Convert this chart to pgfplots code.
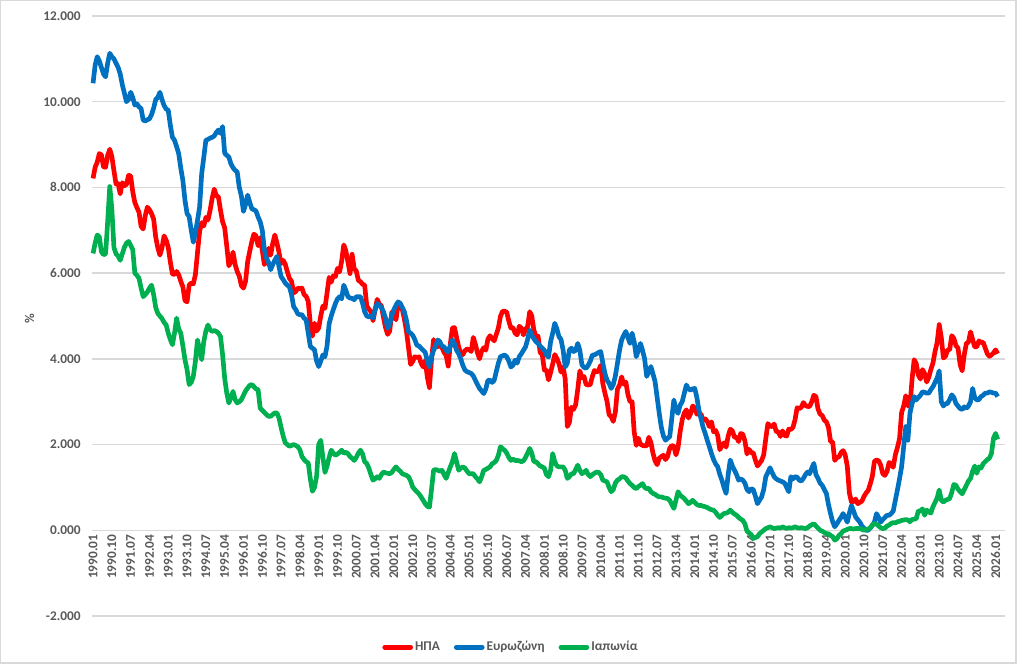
\documentclass[border=0pt]{standalone}
\usepackage{fontspec}
\setmainfont{Carlito}
\usepackage{pgfplots}
\pgfplotsset{compat=1.18}
\usepackage{pgfplotstable}

\definecolor{usred}{HTML}{FF0000}
\definecolor{ezblue}{HTML}{0070C0}
\definecolor{jpgreen}{HTML}{00B050}
\definecolor{txtgray}{HTML}{595959}
\definecolor{gridgray}{HTML}{D9D9D9}
\newcommand{\tickfont}{\fontsize{10}{12}\selectfont\bfseries}

% monthly 10y yields, 1990.01 - 2026.02
\pgfplotstableread{
us ez jp
8.21 10.43 6.46
8.47 10.85 6.70
8.59 11.05 6.89
8.79 10.95 6.85
8.76 10.80 6.50
8.48 10.65 6.43
8.47 10.58 6.45
8.75 10.90 7.20
8.89 11.13 8.02
8.72 11.05 7.50
8.39 11.00 6.60
8.08 10.90 6.45
8.09 10.80 6.40
7.85 10.65 6.30
8.11 10.40 6.45
8.04 10.20 6.60
8.07 10.00 6.70
8.28 10.05 6.74
8.27 10.22 6.65
7.90 10.10 6.55
7.65 9.92 6.00
7.53 9.95 5.95
7.42 9.88 5.88
7.09 9.84 5.65
7.03 9.57 5.45
7.34 9.55 5.50
7.54 9.58 5.56
7.48 9.60 5.65
7.39 9.70 5.72
7.26 9.85 5.50
6.84 10.05 5.20
6.59 10.10 5.06
6.42 10.22 5.00
6.59 10.05 4.94
6.87 9.91 4.85
6.77 9.83 4.79
6.60 9.80 4.60
6.26 9.45 4.45
5.98 9.17 4.33
5.97 9.10 4.60
6.04 8.95 4.95
5.96 8.79 4.70
5.81 8.45 4.60
5.68 8.16 4.30
5.36 7.70 3.98
5.33 7.39 3.75
5.72 7.32 3.40
5.77 7.00 3.45
5.75 6.72 3.59
5.97 6.95 3.95
6.48 7.23 4.44
6.97 7.54 4.20
7.18 8.32 3.98
7.10 8.70 4.40
7.30 9.10 4.65
7.24 9.12 4.79
7.46 9.15 4.68
7.74 9.17 4.64
7.96 9.20 4.66
7.81 9.28 4.64
7.78 9.34 4.60
7.47 9.26 4.52
7.20 9.42 4.10
7.06 8.80 3.55
6.63 8.75 3.20
6.17 8.71 2.97
6.28 8.55 3.10
6.49 8.46 3.24
6.20 8.40 3.05
6.04 8.36 2.97
5.93 8.00 3.00
5.71 7.80 3.05
5.65 7.44 3.15
5.81 7.60 3.25
6.27 7.82 3.32
6.51 7.65 3.38
6.74 7.50 3.40
6.91 7.48 3.35
6.87 7.45 3.30
6.64 7.31 3.28
6.83 7.20 2.85
6.53 7.00 2.80
6.20 6.55 2.75
6.30 6.35 2.70
6.58 6.25 2.66
6.42 6.08 2.66
6.69 6.20 2.70
6.89 6.30 2.74
6.71 6.39 2.74
6.49 6.15 2.62
6.22 5.92 2.40
6.30 5.85 2.20
6.21 5.77 2.04
6.03 5.72 2.00
5.88 5.68 1.96
5.81 5.50 1.98
5.54 5.22 2.00
5.57 5.15 1.98
5.65 5.05 1.95
5.64 5.03 1.88
5.65 5.03 1.72
5.50 4.95 1.65
5.46 4.91 1.60
5.34 4.60 1.57
4.81 4.29 1.20
4.53 4.25 0.91
4.83 4.21 1.00
4.65 3.95 1.26
4.72 3.82 2.00
5.00 3.95 2.10
5.23 4.09 1.70
5.18 4.05 1.35
5.54 4.30 1.50
5.90 4.82 1.70
5.79 5.00 1.87
5.94 5.15 1.80
5.92 5.29 1.75
6.11 5.40 1.78
6.03 5.45 1.82
6.28 5.40 1.87
6.66 5.72 1.80
6.52 5.60 1.82
6.26 5.45 1.79
5.99 5.42 1.72
6.44 5.41 1.68
6.10 5.38 1.63
6.05 5.45 1.70
5.83 5.45 1.80
5.80 5.45 1.87
5.74 5.30 1.78
5.72 5.10 1.60
5.24 5.00 1.56
5.16 4.98 1.45
5.10 5.00 1.30
4.89 4.95 1.17
5.14 5.15 1.20
5.39 5.29 1.25
5.28 5.25 1.21
5.24 5.20 1.30
4.97 5.10 1.36
4.73 4.95 1.34
4.57 4.71 1.33
4.65 4.80 1.32
5.09 5.02 1.35
5.04 5.15 1.42
4.91 5.25 1.48
5.28 5.33 1.42
5.21 5.30 1.38
5.16 5.20 1.32
4.93 5.10 1.30
4.65 4.90 1.28
4.26 4.63 1.25
3.87 4.60 1.15
3.94 4.55 1.01
4.05 4.45 0.95
4.03 4.32 0.90
4.05 4.30 0.85
3.90 4.25 0.78
3.81 4.20 0.70
3.96 4.15 0.62
3.57 3.95 0.56
3.33 3.81 0.54
3.98 4.05 0.95
4.45 4.20 1.40
4.27 4.30 1.42
4.29 4.44 1.40
4.30 4.40 1.38
4.27 4.30 1.40
4.15 4.28 1.30
4.08 4.20 1.21
3.83 4.16 1.35
4.35 4.30 1.48
4.72 4.44 1.60
4.73 4.35 1.79
4.50 4.20 1.60
4.28 4.12 1.40
4.13 4.00 1.45
4.10 3.85 1.48
4.19 3.74 1.45
4.23 3.70 1.38
4.22 3.68 1.32
4.17 3.66 1.32
4.50 3.60 1.32
4.34 3.50 1.25
4.14 3.40 1.20
4.00 3.31 1.13
4.18 3.25 1.25
4.26 3.19 1.40
4.20 3.30 1.42
4.46 3.50 1.45
4.54 3.50 1.48
4.47 3.45 1.55
4.42 3.50 1.58
4.57 3.70 1.63
4.72 3.90 1.75
4.99 4.05 1.95
5.11 4.07 1.90
5.11 4.09 1.87
5.09 4.05 1.80
4.88 3.95 1.70
4.72 3.81 1.63
4.73 3.85 1.66
4.60 3.97 1.63
4.56 3.90 1.63
4.76 4.05 1.62
4.72 4.12 1.60
4.56 4.20 1.62
4.69 4.28 1.70
4.75 4.45 1.80
5.10 4.67 1.91
5.00 4.55 1.80
4.67 4.47 1.60
4.52 4.40 1.60
4.53 4.36 1.55
4.15 4.30 1.50
4.10 4.25 1.48
3.74 4.20 1.45
3.74 4.09 1.30
3.51 4.04 1.25
3.68 4.40 1.40
3.88 4.60 1.79
4.10 4.83 1.60
4.01 4.70 1.50
3.89 4.52 1.48
3.69 4.45 1.48
3.81 4.20 1.48
3.53 3.81 1.40
2.42 3.90 1.21
2.52 4.21 1.25
2.87 4.25 1.32
2.82 4.17 1.32
2.93 4.20 1.42
3.29 4.36 1.52
3.72 4.20 1.40
3.56 3.86 1.32
3.59 3.80 1.35
3.40 3.78 1.40
3.39 3.85 1.30
3.40 3.95 1.25
3.59 4.09 1.30
3.73 4.09 1.33
3.69 4.12 1.36
3.73 4.15 1.35
3.85 4.17 1.30
3.42 3.90 1.17
3.20 3.66 1.15
3.01 3.50 1.13
2.70 3.43 1.00
2.65 3.31 0.90
2.54 3.40 0.95
2.76 3.60 1.10
3.29 3.90 1.17
3.39 4.20 1.20
3.58 4.44 1.25
3.41 4.55 1.25
3.46 4.64 1.22
3.17 4.50 1.15
3.00 4.36 1.09
3.00 4.60 1.05
2.30 4.40 1.00
1.98 4.05 0.97
2.15 4.20 1.02
2.01 4.36 1.05
1.98 4.20 1.09
1.97 4.00 1.00
1.97 3.59 0.97
2.17 3.70 0.98
2.05 3.82 0.90
1.80 3.65 0.86
1.62 3.47 0.84
1.53 3.10 0.80
1.68 2.73 0.78
1.72 2.40 0.78
1.75 2.20 0.76
1.65 2.10 0.75
1.72 2.15 0.74
1.91 2.18 0.70
1.98 2.60 0.60
1.96 3.04 0.51
1.76 2.80 0.70
1.93 2.73 0.90
2.30 2.92 0.82
2.58 3.00 0.78
2.74 3.20 0.74
2.81 3.39 0.68
2.62 3.30 0.62
2.72 3.27 0.65
2.90 3.30 0.70
2.86 3.31 0.65
2.71 3.10 0.60
2.72 2.80 0.58
2.71 2.60 0.58
2.56 2.40 0.56
2.60 2.26 0.55
2.54 2.10 0.53
2.42 1.95 0.50
2.53 1.79 0.48
2.30 1.65 0.47
2.33 1.55 0.42
2.21 1.48 0.35
1.88 1.30 0.30
1.98 1.17 0.35
2.04 1.00 0.39
1.94 0.86 0.40
2.20 1.30 0.42
2.36 1.64 0.47
2.32 1.50 0.42
2.17 1.40 0.38
2.17 1.30 0.35
2.07 1.17 0.30
2.26 1.20 0.26
2.24 1.17 0.23
2.09 1.10 0.15
1.78 0.95 -0.02
1.89 0.90 -0.06
1.81 0.97 -0.10
1.81 0.95 -0.19
1.64 0.80 -0.17
1.50 0.62 -0.15
1.56 0.70 -0.08
1.63 0.78 -0.04
1.76 0.95 0.00
2.14 1.25 0.04
2.49 1.35 0.06
2.43 1.46 0.08
2.42 1.35 0.06
2.48 1.25 0.04
2.30 1.20 0.05
2.30 1.17 0.06
2.19 1.15 0.05
2.32 1.13 0.08
2.21 1.10 0.06
2.20 1.00 0.04
2.36 0.90 0.06
2.35 1.25 0.05
2.40 1.20 0.06
2.58 1.25 0.08
2.86 1.24 0.06
2.84 1.17 0.05
2.87 1.15 0.06
2.98 1.21 0.05
2.91 1.30 0.04
2.89 1.36 0.06
2.89 1.32 0.10
3.00 1.45 0.13
3.15 1.56 0.15
3.12 1.30 0.10
2.83 1.21 0.05
2.71 1.10 0.00
2.68 1.05 -0.02
2.57 0.95 -0.05
2.53 0.86 -0.08
2.40 0.60 -0.08
2.07 0.39 -0.12
2.06 0.20 -0.15
1.63 0.08 -0.23
1.70 0.15 -0.20
1.71 0.23 -0.12
1.81 0.30 -0.08
1.86 0.39 -0.02
1.76 0.30 0.00
1.50 0.19 0.02
0.87 0.40 0.04
0.66 0.58 0.04
0.67 0.45 0.03
0.73 0.31 0.04
0.62 0.25 0.04
0.65 0.19 0.04
0.68 0.10 0.02
0.79 0.05 0.00
0.87 0.00 0.02
0.93 0.00 0.03
1.08 0.05 0.06
1.26 0.12 0.12
1.61 0.19 0.16
1.64 0.39 0.14
1.62 0.30 0.10
1.52 0.19 0.06
1.32 0.25 0.04
1.28 0.30 0.05
1.37 0.35 0.10
1.58 0.35 0.12
1.56 0.39 0.16
1.47 0.45 0.18
1.76 0.70 0.17
1.93 0.94 0.20
2.13 1.20 0.21
2.75 1.48 0.23
2.90 1.95 0.24
3.14 2.42 0.25
2.90 2.10 0.24
2.90 2.73 0.20
3.52 2.95 0.25
3.98 3.12 0.26
3.89 3.04 0.27
3.62 3.10 0.45
3.53 3.15 0.45
3.75 3.23 0.50
3.66 3.22 0.35
3.46 3.20 0.47
3.57 3.20 0.43
3.75 3.28 0.40
3.90 3.35 0.55
4.17 3.45 0.65
4.38 3.55 0.75
4.80 3.72 0.94
4.50 3.00 0.70
4.02 2.90 0.66
4.06 2.95 0.70
4.21 2.96 0.72
4.21 3.05 0.74
4.54 3.16 0.88
4.48 3.10 1.07
4.31 2.96 1.05
4.25 2.90 0.96
3.87 2.84 0.90
3.72 2.82 0.85
4.10 2.88 0.95
4.36 2.85 1.05
4.39 2.90 1.15
4.63 3.00 1.21
4.45 3.31 1.38
4.28 3.10 1.50
4.28 3.04 1.33
4.42 3.05 1.48
4.38 3.12 1.45
4.39 3.15 1.55
4.26 3.20 1.60
4.12 3.20 1.65
4.06 3.23 1.68
4.09 3.22 1.79
4.14 3.20 2.15
4.21 3.20 2.26
4.12 3.12 2.12
}\yields

\begin{document}
\begin{tikzpicture}
\path[use as bounding box] (0pt,0pt) rectangle (767.25pt,500.25pt);
\draw[gridgray, line width=0.8pt] (0.4pt,3pt) rectangle (762pt,499.8pt);
\begin{axis}[
at = {(69pt,38.25pt)},
anchor = south west,
scale only axis,
width = 684.75pt,
height = 450pt,
xmin = -0.5,
xmax = 436.5,
ymin = -2,
ymax = 12,
ytick = {-2,0,...,12},
xtick = {0,9,...,432},
xticklabels = {1990.01,1990.10,1991.07,1992.04,1993.01,1993.10,1994.07,1995.04,1996.01,1996.10,1997.07,1998.04,1999.01,1999.10,2000.07,2001.04,2002.01,2002.10,2003.07,2004.04,2005.01,2005.10,2006.07,2007.04,2008.01,2008.10,2009.07,2010.04,2011.01,2011.10,2012.07,2013.04,2014.01,2014.10,2015.07,2016.04,2017.01,2017.10,2018.07,2019.04,2020.01,2020.10,2021.07,2022.04,2023.01,2023.10,2024.07,2025.04,2026.01},
ymajorgrids = true,
grid style = {draw=gridgray, line width=1.1pt},
axis line style = {draw=none},
major tick length = 0pt,
tick label style = {font=\tickfont, text=txtgray},
xticklabel style = {rotate=90, anchor=east},
xticklabel shift = -64.5pt,
yticklabel style = {xshift=-5pt},
/pgf/number format/fixed,
/pgf/number format/fixed zerofill,
/pgf/number format/precision=3,
/pgf/number format/assume math mode=true,
ylabel = {\%},
ylabel style = {font=\tickfont, text=txtgray, xshift=-2pt},
clip = false,
legend style = {at={(0.459,-0.052)}, anchor=center, legend columns=3, draw=none, fill=none, font=\tickfont, text=txtgray, nodes={inner xsep=1.5pt}, /tikz/every even column/.append style={column sep=9pt}},
legend cell align = left,
legend image code/.code = {\draw[#1, line cap=round] (0pt,0pt) -- (19.5pt,0pt);},
]
\addplot [usred, line width=3.5pt, line join=round] table [x expr=\coordindex, y=us] {\yields};
\addplot [ezblue, line width=3.5pt, line join=round] table [x expr=\coordindex, y=ez] {\yields};
\addplot [jpgreen, line width=3.5pt, line join=round] table [x expr=\coordindex, y=jp] {\yields};
\legend{ΗΠΑ, Ευρωζώνη, Ιαπωνία}
\end{axis}
\end{tikzpicture}
\end{document}
